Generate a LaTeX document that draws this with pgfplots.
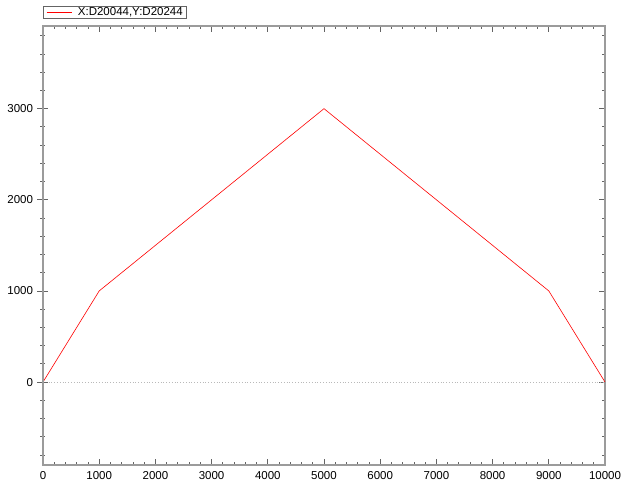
\documentclass[border=0pt]{standalone}
\usepackage{pgfplots}
\pgfplotsset{compat=1.18}
\usepackage{fontspec}
\setmainfont{Liberation Sans}
\definecolor{axgray}{RGB}{155,155,155}
\definecolor{tickgray}{RGB}{100,100,100}
\begin{document}
\begin{tikzpicture}
% main box: x ticks both sides (inside), y ticks on the right (inside)
\begin{axis}[
  at={(43pt,24pt)}, anchor=south west,
  scale only axis, width=562pt, height=439pt,
  xmin=0, xmax=10000, ymin=-910, ymax=3907,
  xtick={0,1000,...,10000}, minor x tick num=4,
  ytick={0,1000,2000,3000}, minor ytick={-800,-600,...,3800},
  ytick pos=right, yticklabels={},
  tick align=inside,
  major tick length=6pt, minor tick length=3pt,
  axis line style={axgray, line width=1.5pt},
  every tick/.style={tickgray, line width=0.8pt},
  scaled x ticks=false,
  /pgf/number format/.cd, 1000 sep={}, assume math mode=true, /pgfplots/.cd,
  ticklabel style={font=\fontsize{11.5}{13}\selectfont},
  xticklabel style={yshift=-3pt},
  legend style={at={(0,1)}, anchor=south west, yshift=7pt,
    draw=tickgray, line width=0.6pt, inner xsep=3pt, inner ysep=0.5pt,
    font=\fontsize{11.5}{13}\selectfont,
    nodes={inner sep=1pt}},
  legend image code/.code={\draw[#1] (0pt,0pt) -- (25pt,0pt);},
]
\addplot[red, line width=0.6pt] coordinates {
  (0,0) (1000,1000) (5000,3000) (9000,1000) (10000,0)
};
\addlegendentry{\hspace{5pt}X:D20044,Y:D20244\hspace{4pt}}
\addplot[axgray!70, dotted, line width=0.8pt, forget plot] coordinates {(0,0) (10000,0)};
\end{axis}
% left y axis: ticks across the line, labels
\begin{axis}[
  at={(43pt,24pt)}, anchor=south west,
  scale only axis, width=562pt, height=439pt,
  xmin=0, xmax=10000, ymin=-910, ymax=3907,
  hide x axis, axis y line*=left,
  ytick={0,1000,2000,3000}, minor ytick={-800,-600,...,3800},
  tick align=center,
  major tick length=11pt, minor tick length=5pt,
  axis line style={axgray, line width=1.5pt, -},
  every tick/.style={tickgray, line width=0.8pt},
  /pgf/number format/.cd, 1000 sep={}, assume math mode=true, /pgfplots/.cd,
  yticklabel style={font=\fontsize{11.5}{13}\selectfont, xshift=-1pt},
]
\end{axis}
\pgfresetboundingbox
\path (0,0) rectangle (624pt,489pt);
\end{tikzpicture}
\end{document}
